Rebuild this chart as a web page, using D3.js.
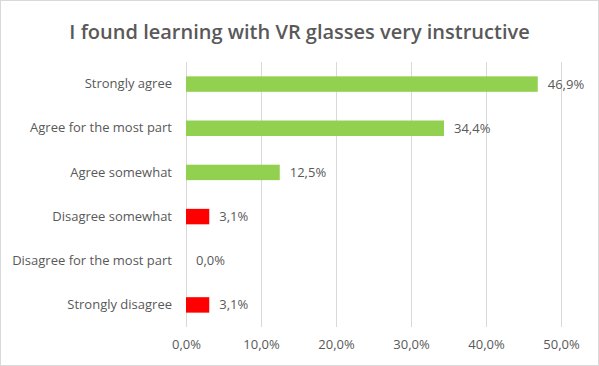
<!DOCTYPE html>
<html>
<head>
<meta charset="utf-8">
<script src="https://cdn.jsdelivr.net/npm/d3@7"></script>
<style>
  body { margin: 0; background: #fff; }
  svg { display: block; font-family: "Open Sans", sans-serif; }
</style>
</head>
<body>
<svg id="chart" width="599" height="366"></svg>
<script>
// Chart data
var categories = ["Strongly agree", "Agree for the most part", "Agree somewhat",
  "Disagree somewhat", "Disagree for the most part", "Strongly disagree"];
var values = [46.9, 34.4, 12.5, 3.1, 0.0, 3.1];
var barColors = ["#92D050", "#92D050", "#92D050", "#FF0000", "#FF0000", "#FF0000"];
var xTicks = [0, 10, 20, 30, 40, 50];
var title = "I found learning with VR glasses very instructive";

var width = 599, height = 366;
var margin = { top: 62, right: 38, bottom: 39, left: 186 };
var plotW = width - margin.left - margin.right;
var plotH = height - margin.top - margin.bottom;
var labelSize = "13px";

var svg = d3.select("#chart");

// outer border
svg.append("rect")
  .attr("x", 0.5).attr("y", 0.5)
  .attr("width", width - 1).attr("height", height - 1)
  .attr("fill", "#fff").attr("stroke", "#d9d9d9");

svg.append("text")
  .attr("x", width / 2).attr("y", 39)
  .attr("text-anchor", "middle")
  .style("font-size", "20px").style("font-weight", 600)
  .style("fill", "#595959")
  .text(title);

var xScale = d3.scaleLinear().domain([0, 50]).range([0, plotW]);
var yScale = d3.scaleBand().domain(categories).range([0, plotH]).paddingInner(0.65).paddingOuter(0.325);

var fmt = function(v) { return d3.format(".1f")(v).replace(".", ",") + "%"; };

var canvas = svg.append("g")
  .attr("transform", "translate(" + margin.left + "," + margin.top + ")");

// vertical gridlines
canvas.selectAll(".grid")
  .data(xTicks).enter()
  .append("line")
    .attr("class", "grid")
    .attr("x1", function(d) { return Math.round(xScale(d)) + 0.5; })
    .attr("x2", function(d) { return Math.round(xScale(d)) + 0.5; })
    .attr("y1", 0).attr("y2", plotH)
    .attr("stroke", "#d9d9d9").attr("stroke-width", 1);

// x axis labels
var xAxis = d3.axisBottom(xScale).tickValues(xTicks).tickFormat(fmt).tickSize(0).tickPadding(13);
var gx = canvas.append("g")
  .attr("transform", "translate(0," + plotH + ")")
  .call(xAxis);
gx.select(".domain").remove();
gx.selectAll("text").style("font-size", labelSize).style("fill", "#595959").style("font-family", "Open Sans, sans-serif");

// y axis labels
var yAxis = d3.axisLeft(yScale).tickSize(0).tickPadding(14);
var gy = canvas.append("g").call(yAxis);
gy.select(".domain").remove();
gy.selectAll("text").style("font-size", labelSize).style("fill", "#595959").style("font-family", "Open Sans, sans-serif");

// bars
canvas.selectAll(".bar")
  .data(values).enter()
  .append("rect")
    .attr("class", "bar")
    .attr("x", xScale(0))
    .attr("y", function(d, i) { return yScale(categories[i]); })
    .attr("width", function(d) { return xScale(d) - xScale(0); })
    .attr("height", yScale.bandwidth())
    .attr("fill", function(d, i) { return barColors[i]; });

// value labels
canvas.selectAll(".val")
  .data(values).enter()
  .append("text")
    .attr("class", "val")
    .attr("x", function(d) { return xScale(d) + 10; })
    .attr("y", function(d, i) { return yScale(categories[i]) + yScale.bandwidth() / 2; })
    .attr("dy", "0.35em")
    .style("font-size", labelSize).style("fill", "#595959")
    .text(fmt);
</script>
</body>
</html>
